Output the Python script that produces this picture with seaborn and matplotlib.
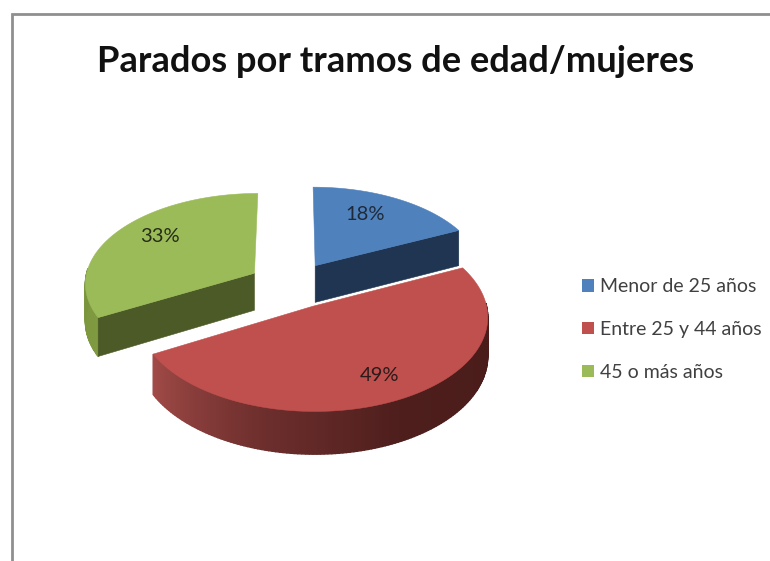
import matplotlib
matplotlib.use("Agg")
import matplotlib.pyplot as plt
from matplotlib.patches import Patch
import numpy as np
import seaborn as sns

categories = ["Menor de 25 años", "Entre 25 y 44 años", "45 o más años"]
values = [18, 49, 33]
title = "Parados por tramos de edad/mujeres"
top_colors = ["#4f81bd", "#c0504d", "#9bbb59"]
face_colors = ["#1f3552", "#4a1c1a", "#4b5a26"]

sns.set_theme(style="white")
plt.rcParams["font.family"] = ["Lato", "DejaVu Sans"]

# fake 3d: pie lies on a plane, simple perspective on the way back
cx, cy = 292, 285
rx, ry = 170, 90
persp = 0.10
depth = 37.5
explode = 0.26
steps = 160


def project(x, y, z=0):
    p = 1 / (1 + persp * y)
    return cx + rx * x * p, cy - ry * y * p + z * depth * p


fig = plt.figure(figsize=(7.7, 5.61), dpi=100)
ax = fig.add_axes([0, 0, 1, 1])
ax.set_xlim(0, 770)
ax.set_ylim(561, 0)
ax.axis("off")

edges = np.concatenate([[0], np.cumsum(values)]) / sum(values) * 2 * np.pi

rim_shades = {
    0: sns.blend_palette(["#1f3552", "#2a4566"], steps),
    1: sns.blend_palette(["#4a1c1a", "#4a1c1a", "#4d1e1c", "#6e2f2d", "#a04a47"], steps),
    2: sns.blend_palette(["#7f9a40", "#6d8734"], steps),
}
# red wedge goes last because it sits in front of the other two
for i in [0, 2, 1]:
    a0, a1 = edges[i], edges[i + 1]
    mid = (a0 + a1) / 2
    ox, oy = explode * np.sin(mid), explode * np.cos(mid)
    t = np.linspace(a0, a1, steps + 1)
    xs, ys = ox + np.sin(t), oy + np.cos(t)

    for j in range(steps):
        # back part of the rim can't be seen
        if np.cos(t[j]) > 0.05:
            continue
        qx = [xs[j], xs[j + 1], xs[j + 1], xs[j]]
        qy = [ys[j], ys[j + 1], ys[j + 1], ys[j]]
        sx, sy = project(np.array(qx), np.array(qy), np.array([0, 0, 1, 1]))
        ax.fill(sx, sy, color=rim_shades[i][j], lw=1, zorder=i + 1)

    # the cut face that looks at the viewer
    if i != 1:
        k = -1 if i == 0 else 0
        qx = [ox, xs[k], xs[k], ox]
        qy = [oy, ys[k], ys[k], oy]
        sx, sy = project(np.array(qx), np.array(qy), np.array([0, 0, 1, 1]))
        ax.fill(sx, sy, color=face_colors[i], lw=0.4, zorder=i + 1)

    sx, sy = project(np.r_[ox, xs], np.r_[oy, ys])
    ax.fill(sx, sy, color=top_colors[i], lw=0.4, zorder=i + 1.5)

ax.text(365.5, 214, f"{values[0]}%", ha="center", va="center", fontsize=14.5, color="#1f2a38", zorder=5)
ax.text(380, 375, f"{values[1]}%", ha="center", va="center", fontsize=14.5, color="#2b1a1a", zorder=5)
ax.text(159.5, 236, f"{values[2]}%", ha="center", va="center", fontsize=14.5, color="#252c18", zorder=5)

ax.text(395.5, 61, title, ha="center", va="center", fontsize=26.1, fontweight="bold", color="#111111")

handles = [Patch(facecolor=c, edgecolor="none") for c in top_colors]
ax.legend(handles, categories, loc="center left", bbox_to_anchor=(582 / 770, 1 - 329.5 / 561),
          frameon=False, fontsize=14, labelcolor="#404040", labelspacing=1.32,
          borderpad=0, borderaxespad=0,
          handlelength=0.62, handleheight=0.62, handletextpad=0.31)

# sheet border, open at right and bottom
ax.plot([11.5, 11.5, 770], [561, 13.5, 13.5], color="#8f8f8f", lw=2, solid_joinstyle="miter", clip_on=False)

plt.savefig("out.png", dpi=100)
